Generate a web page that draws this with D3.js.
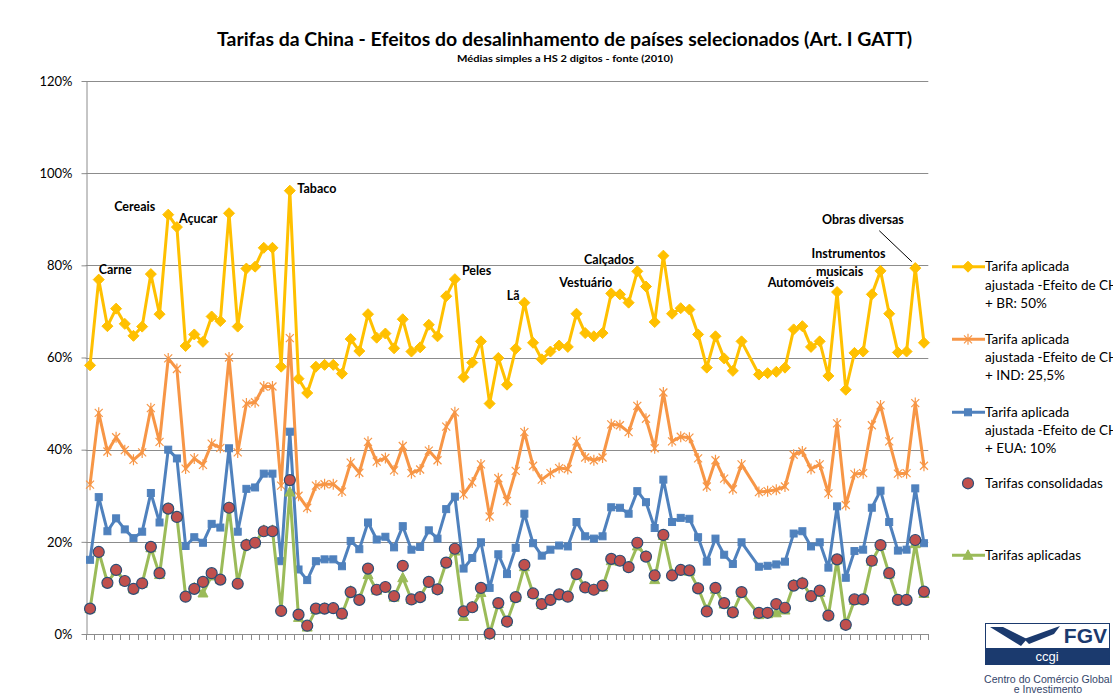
<!DOCTYPE html>
<html><head><meta charset="utf-8">
<script src="https://cdn.jsdelivr.net/npm/d3@7"></script>
<style>
body{margin:0;background:#fff;}
svg{display:block;font-family:Lato,"Liberation Sans",Arial,sans-serif;}
</style>
</head><body>
<svg id="c" width="1113" height="700"></svg>
<script>
// HS 2-digit chapters (77 is reserved / empty)
const chapters = [1,2,3,4,5,6,7,8,9,10,11,12,13,14,15,16,17,18,19,20,21,22,23,24,25,26,27,28,29,30,31,32,33,34,35,36,37,38,39,40,41,42,43,44,45,46,47,48,49,50,51,52,53,54,55,56,57,58,59,60,61,62,63,64,65,66,67,68,69,70,71,72,73,74,75,76,77,78,79,80,81,82,83,84,85,86,87,88,89,90,91,92,93,94,95,96,97];

const tarifaBR = [58.3,76.9,66.8,70.6,67.3,64.7,66.7,78.1,69.4,91.0,
 88.3,62.5,65.0,63.4,68.9,67.9,91.3,66.7,79.3,79.7,
 83.8,83.8,58.0,96.2,55.4,52.3,58.0,58.4,58.4,56.5,
 64.0,61.4,69.4,64.3,65.2,62.0,68.3,61.3,62.2,67.1,
 64.6,73.3,77.0,55.7,58.9,63.5,50.0,59.9,54.1,61.9,
 71.9,63.2,59.6,61.3,62.6,62.3,69.5,65.3,64.6,65.3,
 73.9,73.7,71.9,78.7,75.4,67.7,82.1,69.5,70.7,70.4,
 65.0,57.8,64.6,59.8,57.1,63.5,null,56.3,56.6,56.9,
 57.8,66.1,66.8,62.3,63.5,56.0,74.2,53.0,61.0,61.3,
 73.7,78.8,69.5,61.1,61.3,79.4,63.2];

const tarifaIND = [32.4,48.0,39.6,42.7,39.9,37.8,39.4,49.0,41.7,59.8,
 57.5,35.9,38.1,36.7,41.3,40.4,60.0,39.4,50.0,50.3,
 53.7,53.7,32.2,64.2,30.0,27.4,32.2,32.5,32.5,30.9,
 37.2,35.0,41.7,37.4,38.2,35.5,40.8,34.9,35.7,39.8,
 37.7,45.0,48.1,30.3,32.9,36.8,25.5,33.8,28.9,35.4,
 43.8,36.5,33.5,34.9,36.0,35.8,41.8,38.3,37.7,38.3,
 45.5,45.3,43.8,49.5,46.7,40.3,52.4,41.8,42.8,42.6,
 38.1,32.0,37.7,33.7,31.4,36.8,null,30.8,31.0,31.3,
 32.0,38.9,39.6,35.8,36.8,30.5,45.7,28.0,34.7,34.9,
 45.3,49.6,41.8,34.8,34.9,50.1,36.5];

const tarifaEUA = [16.1,29.7,22.3,25.1,22.7,20.8,22.2,30.6,24.2,40.0,
 38.1,19.1,21.0,19.8,23.9,23.1,40.3,22.2,31.5,31.8,
 34.8,34.8,15.8,43.9,14.0,11.7,15.8,16.2,16.2,14.7,
 20.2,18.4,24.2,20.5,21.1,18.8,23.4,18.3,18.9,22.5,
 20.7,27.1,29.8,14.2,16.5,19.9,10.0,17.3,13.0,18.7,
 26.1,19.7,17.0,18.3,19.2,19.0,24.3,21.2,20.7,21.2,
 27.5,27.4,26.1,31.0,28.6,23.0,33.5,24.3,25.2,25.0,
 21.0,15.7,20.7,17.2,15.2,19.9,null,14.6,14.8,15.1,
 15.7,21.8,22.3,19.0,19.9,14.4,27.7,12.2,18.0,18.3,
 27.4,31.1,24.3,18.1,18.3,31.6,19.7];

const consolidadas = [5.5,17.8,11.1,13.9,11.5,9.8,11.0,18.9,13.2,27.2,
 25.4,8.1,9.8,11.3,13.2,11.8,27.4,10.9,19.3,19.8,
 22.3,22.3,5.0,33.4,4.2,1.8,5.5,5.5,5.6,4.4,
 9.1,7.4,14.2,9.6,10.2,8.2,14.8,7.5,8.0,11.3,
 9.7,15.5,18.5,4.9,5.8,10.0,0.1,6.7,2.7,8.0,
 15.0,8.8,6.5,7.4,8.6,8.1,13.0,10.1,9.6,10.5,
 16.3,15.9,14.5,19.8,16.8,12.7,21.5,12.7,13.9,13.8,
 9.9,4.9,10.0,6.7,4.7,9.1,null,4.6,4.6,6.5,
 5.7,10.5,11.0,8.2,9.4,4.0,16.2,2.0,7.5,7.5,
 15.9,19.3,13.2,7.4,7.4,20.4,9.2];

const aplicadas = [5.5,17.9,11.2,13.7,11.5,9.8,11.0,18.7,12.9,27.3,
 25.5,8.3,10.0,8.9,12.6,11.9,27.5,11.1,19.5,19.8,
 22.5,22.5,5.3,30.8,3.6,1.5,5.3,5.6,5.6,4.3,
 9.3,7.6,12.9,9.5,10.1,8.0,12.2,7.5,8.1,11.4,
 9.7,15.5,18.0,3.8,5.9,9.0,0.0,6.6,2.7,7.9,
 14.6,8.8,6.4,7.5,8.4,8.2,13.0,10.2,9.7,10.2,
 15.9,15.8,14.6,19.1,16.9,11.8,21.4,13.0,13.8,13.6,
 10.0,5.2,9.7,6.5,4.7,9.0,null,4.2,4.4,4.6,
 5.2,10.7,11.2,8.2,9.0,4.0,16.1,2.0,7.3,7.5,
 15.8,19.2,13.0,7.4,7.5,19.6,8.8];

const yTickValues = [0,20,40,60,80,100,120];

const legendLabels = [
  ["Tarifa aplicada","ajustada -Efeito de CH","+ BR: 50%"],
  ["Tarifa aplicada","ajustada -Efeito de CH","+ IND: 25,5%"],
  ["Tarifa aplicada","ajustada -Efeito de CH","+ EUA: 10%"],
  ["Tarifas consolidadas"],
  ["Tarifas aplicadas"]
];

const annotations = [
  {c:2,  text:["Carne"]},
  {c:10, text:["Cereais"]},
  {c:11, text:["Açucar"]},
  {c:24, text:["Tabaco"]},
  {c:43, text:["Peles"]},
  {c:51, text:["Lã"]},
  {c:61, text:["Vestuário"]},
  {c:64, text:["Calçados"]},
  {c:87, text:["Automóveis"]},
  {c:92, text:["Instrumentos","musicais"]},
  {c:96, text:["Obras diversas"]}
];

const titleText = "Tarifas da China - Efeitos do desalinhamento de países selecionados (Art. I GATT)";
const subtitleText = "Médias simples a HS 2 digitos - fonte (2010)";

// ---------- drawing ----------
const svg = d3.select('#c');
const W = 1113, H = 700;
svg.append('rect').attr('width',W).attr('height',H).attr('fill','#fff');

const plotL = 85.7, plotR = 928.3, plotT = 81, plotB = 634;
const x = d3.scaleBand().domain(chapters).range([plotL, plotR]).padding(0);
const y = d3.scaleLinear().domain([0,120]).range([plotB, plotT]);
const cx = c => x(c) + x.bandwidth()/2;

const gridCol = '#8c8c8c';

// gridlines
svg.append('g').selectAll('line').data(yTickValues.filter(v=>v>0)).join('line')
  .attr('x1',plotL).attr('x2',plotR)
  .attr('y1',d=>Math.round(y(d))+0.5).attr('y2',d=>Math.round(y(d))+0.5)
  .attr('stroke',gridCol).attr('stroke-width',1);

// y axis
const yAxis = d3.axisLeft(y).tickValues(yTickValues).tickFormat(d=>d+'%')
  .tickSize(5).tickSizeOuter(0).tickPadding(9);
const gy = svg.append('g').attr('transform',`translate(${Math.round(plotL)+0.5},0)`).call(yAxis);
gy.selectAll('path,line').attr('stroke',gridCol);
gy.selectAll('text').attr('font-family','Lato, "Liberation Sans", sans-serif')
  .attr('font-size',13).attr('fill','#000');

// x axis line + boundary ticks
svg.append('line').attr('x1',plotL).attr('x2',plotR)
  .attr('y1',Math.round(y(0))+0.5).attr('y2',Math.round(y(0))+0.5).attr('stroke',gridCol);
const bounds = chapters.map(c=>x(c)).concat([x(chapters[chapters.length-1])+x.bandwidth()]);
svg.append('g').selectAll('line').data(bounds).join('line')
  .attr('x1',d=>Math.round(d)+0.5).attr('x2',d=>Math.round(d)+0.5)
  .attr('y1',Math.round(y(0))).attr('y2',Math.round(y(0))+6)
  .attr('stroke',gridCol);

// series helper
function pts(vals){ return chapters.map((c,i)=>({c, v: vals[i]})).filter(d=>d.v!=null); }
const line = d3.line().x(d=>cx(d.c)).y(d=>y(d.v));

const YEL='#FFC000', ORA='#F79646', BLU='#4F81BD', RED='#C0504D', GRN='#9BBB59', NAVY='#2C4D75';

const diamond = 'M0,-5.5L5.5,0L0,5.5L-5.5,0Z';
const star = 'M-4,-4L4,4M-4,4L4,-4M0,-5.5L0,5.5';
const tri = 'M0,-5.5L5,4L-5,4Z';

function drawLine(vals,color){
  svg.append('path').datum(pts(vals)).attr('d',line)
    .attr('fill','none').attr('stroke',color).attr('stroke-width',3)
    .attr('stroke-linejoin','round');
}
function drawMarkers(vals, fn){
  const g = svg.append('g');
  pts(vals).forEach(d=>{ fn(g.append('g').attr('transform',`translate(${cx(d.c)},${y(d.v)})`)); });
}
const mkDiamond = g=>g.append('path').attr('d',diamond).attr('fill',YEL).attr('stroke',YEL).attr('stroke-width',1);
const mkStar = g=>g.append('path').attr('d',star).attr('fill','none').attr('stroke',ORA).attr('stroke-width',1.2);
const mkSquare = g=>g.append('rect').attr('x',-3.5).attr('y',-3.5).attr('width',7).attr('height',7).attr('fill',BLU).attr('stroke',BLU);
const mkTri = g=>g.append('path').attr('d',tri).attr('fill',GRN).attr('stroke',GRN);
const mkCircle = g=>g.append('circle').attr('r',5.5).attr('fill',RED).attr('stroke',NAVY).attr('stroke-width',1.2);

drawLine(tarifaBR,YEL); drawMarkers(tarifaBR,mkDiamond);
drawLine(tarifaIND,ORA); drawMarkers(tarifaIND,mkStar);
drawLine(tarifaEUA,BLU); drawMarkers(tarifaEUA,mkSquare);
drawLine(aplicadas,GRN); drawMarkers(aplicadas,mkTri);
drawMarkers(consolidadas,mkCircle);

// annotations
const annOffsets = {
  2:{dx:0,dy:-10,anchor:'start'},
  10:{dx:-13,dy:-8,anchor:'end'},
  11:{dx:2,dy:-8,anchor:'start'},
  24:{dx:7.5,dy:-2,anchor:'start'},
  43:{dx:7,dy:-8.5,anchor:'start'},
  51:{dx:-17.7,dy:-7,anchor:'start'},
  61:{dx:1,dy:-11,anchor:'end'},
  64:{dx:-3.4,dy:-12,anchor:'end'},
  87:{dx:-2.8,dy:-9.4,anchor:'end'},
  92:{dx:-69,dy:-17,anchor:'start',lh:17.7,dx2:-64.6},
  96:{dx:-11.4,dy:-48,anchor:'end'}
};
annotations.forEach(a=>{
  const o = annOffsets[a.c];
  const px = cx(a.c), py = y(tarifaBR[chapters.indexOf(a.c)]);
  a.text.forEach((t,i)=>{
    svg.append('text').attr('x',px+(i>0&&o.dx2!==undefined?o.dx2:o.dx)).attr('y',py+o.dy+(o.lh||0)*i)
      .attr('dy','0.35em').attr('text-anchor',o.anchor)
      .attr('font-size',12.5).attr('font-weight','bold').attr('fill','#000').text(t);
  });
  if(a.c===96){
    svg.append('line').attr('x1',px-36).attr('y1',py-37.4).attr('x2',px-3.4).attr('y2',py-6.4)
      .attr('stroke','#000').attr('stroke-width',1);
  }
});

// title
svg.append('text').attr('x',564.5).attr('y',46).attr('text-anchor','middle')
  .attr('font-size',19).attr('font-weight','bold').attr('fill','#000')
  .attr('textLength',695).attr('lengthAdjust','spacingAndGlyphs').text(titleText);
svg.append('text').attr('x',565).attr('y',62).attr('text-anchor','middle')
  .attr('font-size',10).attr('font-weight','bold').attr('fill','#000')
  .attr('textLength',216).attr('lengthAdjust','spacingAndGlyphs').text(subtitleText);

// legend
const legendY = [266.7, 339.3, 412.3, 483.3, 555.3];
const legendMk = [mkDiamond, mkStar, mkSquare, mkCircle, mkTri];
const legendCol = [YEL, ORA, BLU, null, GRN];
legendLabels.forEach((lab,i)=>{
  const g = svg.append('g').attr('transform',`translate(0,${legendY[i]})`);
  if(legendCol[i]) g.append('line').attr('x1',952).attr('x2',985).attr('y1',0).attr('y2',0)
      .attr('stroke',legendCol[i]).attr('stroke-width',3);
  legendMk[i](g.append('g').attr('transform','translate(968,0)'));
  lab.forEach((t,j)=>{
    g.append('text').attr('x',985).attr('y',j*18.2).attr('dy','0.35em')
      .attr('font-size',13.5).attr('fill','#000').text(t);
  });
});

// logo
const LN = '#1B3A6E';
const logo = svg.append('g');
logo.append('rect').attr('x',985.5).attr('y',623.5).attr('width',124).attr('height',41)
  .attr('fill','#fff').attr('stroke',LN).attr('stroke-width',1);
logo.append('rect').attr('x',985.5).attr('y',648).attr('width',124).attr('height',16.5).attr('fill',LN);
logo.append('path').attr('d','M990,627 L1003,627 L1027,639 L1021,646 Z').attr('fill',LN);
logo.append('path').attr('d','M1024,639 L1060,626 L1054,634 L1029,644 Z').attr('fill',LN);
logo.append('text').attr('x',1107).attr('y',643).attr('text-anchor','end')
  .attr('font-family','"Liberation Sans",Arial,sans-serif').attr('font-weight','bold')
  .attr('font-size',21).attr('fill',LN).text('FGV');
logo.append('text').attr('x',1047).attr('y',661).attr('text-anchor','middle')
  .attr('font-family','"Liberation Sans",Arial,sans-serif')
  .attr('font-size',13).attr('fill','#fff').text('ccgi');
logo.append('text').attr('x',1048).attr('y',683).attr('text-anchor','middle')
  .attr('font-family','"Liberation Sans",Arial,sans-serif')
  .attr('font-size',10.5).attr('fill','#34466b').attr('textLength',128).attr('lengthAdjust','spacingAndGlyphs')
  .text('Centro do Comércio Global');
logo.append('text').attr('x',1048).attr('y',693).attr('text-anchor','middle')
  .attr('font-family','"Liberation Sans",Arial,sans-serif')
  .attr('font-size',10.5).attr('fill','#34466b').text('e Investimento');
</script>
</body></html>
